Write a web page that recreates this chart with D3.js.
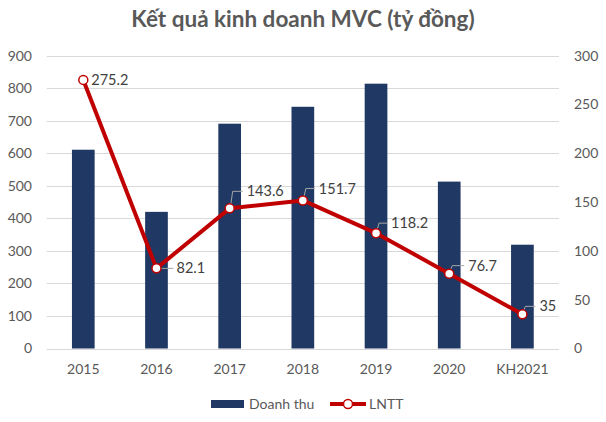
<!DOCTYPE html>
<html>
<head>
<meta charset="utf-8">
<script src="https://cdn.jsdelivr.net/npm/d3@7"></script>
<style>
  body { margin: 0; background: #fff; }
  text { font-family: Lato, "Open Sans", sans-serif; }
  .grid line { stroke: #d9d9d9; stroke-width: 1; }
  .tick-label { fill: #595959; font-size: 14px; }
  .data-label { fill: #404040; font-size: 14.5px; }
</style>
</head>
<body>
<svg id="chart" width="606" height="422"></svg>
<script>
// chart values
const years = ["2015", "2016", "2017", "2018", "2019", "2020", "KH2021"];
const doanhThu = [611, 420, 691, 743, 814, 513, 319];
const lntt = [275.2, 82.1, 143.6, 151.7, 118.2, 76.7, 35];
const leftTicks = [0, 100, 200, 300, 400, 500, 600, 700, 800, 900];
const rightTicks = [0, 50, 100, 150, 200, 250, 300];

// where each LNTT label sits relative to its marker (dx, dy), and if it gets a leader line
const labelOffset = [[8, 0, false], [20, 1, true], [17, -17, true], [16, -12, true], [15, -10, true], [19, -8, true], [17, -8, true]];

const svg = d3.select("svg#chart");
const plot = { left: 46.7, right: 559, top: 55.7, bottom: 348.5 };

const x = d3.scaleBand()
  .domain(years)
  .range([plot.left, plot.right])
  .paddingInner(0.69)
  .paddingOuter(0.345);

const yLeft = d3.scaleLinear().domain([0, 900]).range([plot.bottom, plot.top]);
const yRight = d3.scaleLinear().domain([0, 300]).range([plot.bottom, plot.top]);

// title
svg.append("text")
  .attr("x", 303)
  .attr("y", 27)
  .attr("text-anchor", "middle")
  .style("font-size", "22.5px")
  .style("font-weight", "bold")
  .style("fill", "#595959")
  .text("Kết quả kinh doanh MVC (tỷ đồng)");

// gridlines
svg.append("g")
  .attr("class", "grid")
  .selectAll("line")
  .data(leftTicks)
  .enter()
  .append("line")
  .attr("x1", plot.left)
  .attr("x2", plot.right)
  .attr("y1", d => Math.round(yLeft(d)) + 0.5)
  .attr("y2", d => Math.round(yLeft(d)) + 0.5);

// left axis labels
svg.append("g")
  .selectAll("text")
  .data(leftTicks)
  .enter()
  .append("text")
  .attr("class", "tick-label")
  .attr("x", 32)
  .attr("y", d => yLeft(d))
  .attr("dy", "0.35em")
  .attr("text-anchor", "end")
  .text(d => d);

// right axis labels
svg.append("g")
  .selectAll("text")
  .data(rightTicks)
  .enter()
  .append("text")
  .attr("class", "tick-label")
  .attr("x", 574)
  .attr("y", d => yRight(d))
  .attr("dy", "0.35em")
  .text(d => d);

// category labels
svg.append("g")
  .selectAll("text")
  .data(years)
  .enter()
  .append("text")
  .attr("class", "tick-label")
  .attr("x", d => x(d) + x.bandwidth() / 2)
  .attr("y", 369)
  .attr("dy", "0.35em")
  .attr("text-anchor", "middle")
  .text(d => d);

// bars
svg.append("g")
  .selectAll("rect")
  .data(doanhThu)
  .enter()
  .append("rect")
  .attr("x", (d, i) => x(years[i]))
  .attr("y", d => yLeft(d))
  .attr("width", x.bandwidth())
  .attr("height", d => plot.bottom - yLeft(d))
  .style("fill", "#1f3864");

// LNTT line
const cx = i => x(years[i]) + x.bandwidth() / 2;
const line = d3.line()
  .x((d, i) => cx(i))
  .y(d => yRight(d));

svg.append("path")
  .datum(lntt)
  .attr("d", line)
  .style("fill", "none")
  .style("stroke", "#c00000")
  .style("stroke-width", 4)
  .style("stroke-linejoin", "round");

// leader lines
const leaders = svg.append("g");
lntt.forEach(function(d, i) {
  const o = labelOffset[i];
  if (!o[2]) return;
  const px = cx(i), py = yRight(d);
  if (o[1] === 1) {
    leaders.append("path")
      .attr("d", `M${px + 4},${py} H${px + o[0] - 3}`);
  } else {
    leaders.append("path")
      .attr("d", `M${px + 1},${py - 3} L${px + 3},${py + o[1]} H${px + o[0] - 4}`);
  }
});
leaders.selectAll("path")
  .style("fill", "none")
  .style("stroke", "#a6a6a6")
  .style("stroke-width", 1);

// markers
svg.append("g")
  .selectAll("circle")
  .data(lntt)
  .enter()
  .append("circle")
  .attr("cx", (d, i) => cx(i))
  .attr("cy", d => yRight(d))
  .attr("r", 4.5)
  .style("fill", "#fff")
  .style("stroke", "#c00000")
  .style("stroke-width", 1.5);

// data labels
svg.append("g")
  .selectAll("text")
  .data(lntt)
  .enter()
  .append("text")
  .attr("class", "data-label")
  .attr("x", (d, i) => cx(i) + labelOffset[i][0])
  .attr("y", (d, i) => yRight(d) + (labelOffset[i][1] === 1 ? 0 : labelOffset[i][1]))
  .attr("dy", "0.35em")
  .text(d => d);

// legend
const legend = svg.append("g");
legend.append("rect")
  .attr("x", 211)
  .attr("y", 400)
  .attr("width", 33)
  .attr("height", 8)
  .style("fill", "#1f3864");
legend.append("text")
  .attr("class", "tick-label")
  .attr("x", 249)
  .attr("y", 404)
  .attr("dy", "0.35em")
  .text("Doanh thu");
legend.append("line")
  .attr("x1", 330)
  .attr("x2", 366)
  .attr("y1", 404)
  .attr("y2", 404)
  .style("stroke", "#c00000")
  .style("stroke-width", 4);
legend.append("circle")
  .attr("cx", 348)
  .attr("cy", 404)
  .attr("r", 4.5)
  .style("fill", "#fff")
  .style("stroke", "#c00000")
  .style("stroke-width", 1.5);
legend.append("text")
  .attr("class", "tick-label")
  .attr("x", 369)
  .attr("y", 404)
  .attr("dy", "0.35em")
  .text("LNTT");
</script>
</body>
</html>
